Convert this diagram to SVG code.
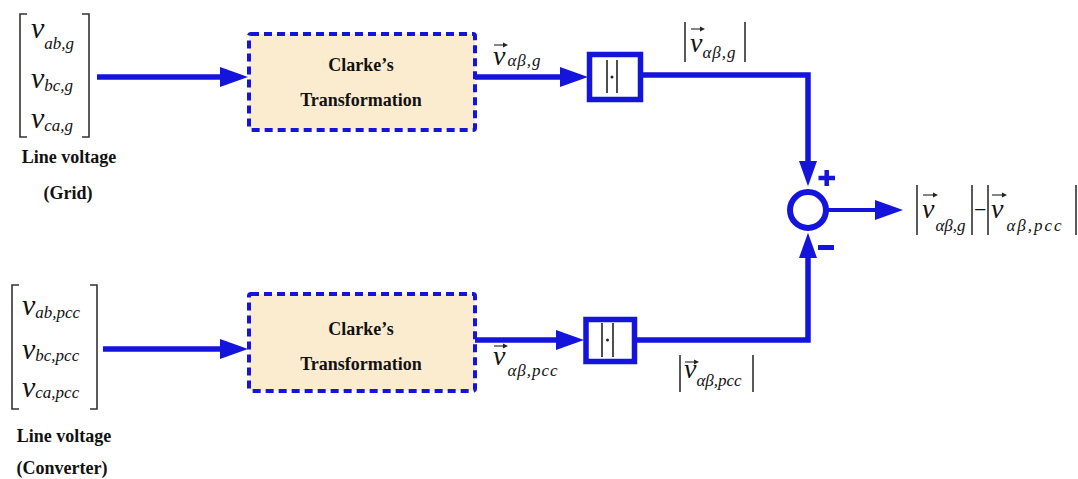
<svg xmlns="http://www.w3.org/2000/svg" width="1078" height="479" viewBox="0 0 1078 479">
<style>
.v{font-family:"Liberation Serif","DejaVu Serif","Times New Roman",serif;font-style:italic;font-size:30px;fill:#111}
.vl{font-family:"Liberation Serif","DejaVu Serif","Times New Roman",serif;font-style:italic;font-size:28px;fill:#111}
.s{font-size:17px}
.b{font-family:"Liberation Serif","DejaVu Serif","Times New Roman",serif;font-weight:bold;font-size:18px;fill:#111;text-anchor:middle}
.br{fill:none;stroke:#333;stroke-width:1.6}
.bar{stroke:#222;stroke-width:1.5}
.va{fill:none;stroke:#222;stroke-width:1.1}
.vah{fill:#222}
.wire{fill:none;stroke:#1414dc;stroke-width:5.5}
.box{fill:#fbeccf;stroke:#1414dc;stroke-width:4;stroke-dasharray:8 5}
.abs{fill:#fff;stroke:#1414dc;stroke-width:5.5}
.inner{stroke:#222;stroke-width:1.6}
</style>
<defs>
<marker id="ah" viewBox="0 0 28 20" markerWidth="28" markerHeight="20" refX="0" refY="10" orient="auto" markerUnits="userSpaceOnUse">
<path d="M0 0 L28 10 L0 20 Z" fill="#1414dc"/>
</marker>
<marker id="ah2" viewBox="0 0 28 20" markerWidth="28" markerHeight="18" refX="0" refY="10" orient="auto" markerUnits="userSpaceOnUse">
<path d="M0 0 L28 10 L0 20 Z" fill="#1414dc"/>
</marker>
</defs>
<rect width="1078" height="479" fill="#fff"/>

<g id="connectors">
<path class="wire" d="M97 77 H220" marker-end="url(#ah)"/>
<path class="wire" d="M475 77 H560" marker-end="url(#ah)"/>
<path class="wire" d="M643 75 H808 V161" marker-end="url(#ah2)"/>
<path class="wire" d="M103 349 H220" marker-end="url(#ah)"/>
<path class="wire" d="M475 340 H556" marker-end="url(#ah)"/>
<path class="wire" d="M637 340 H808 V258" marker-end="url(#ah2)"/>
<path class="wire" style="stroke-width:4" d="M826 210 H875" marker-end="url(#ah)"/>
</g>

<g id="input-grid">
<path class="br" d="M27 14 H20 V137 H27"/>
<path class="br" d="M82 14 H89 V137 H82"/>
<text class="v" x="31" y="38">v<tspan class="s" dy="11">ab,g</tspan></text>
<text class="v" x="31" y="88">v<tspan class="s" dy="3">bc,g</tspan></text>
<text class="v" x="31" y="128">v<tspan class="s" dy="3">ca,g</tspan></text>
<text class="b" x="69" y="163">Line voltage</text>
<text class="b" x="68" y="199">(Grid)</text>
</g>

<g id="input-converter">
<path class="br" d="M19 285 H12 V409 H19"/>
<path class="br" d="M90 285 H97 V409 H90"/>
<text class="v" x="22" y="315">v<tspan class="s" dy="3">ab,pcc</tspan></text>
<text class="v" x="22" y="359">v<tspan class="s" dy="2">bc,pcc</tspan></text>
<text class="v" x="22" y="397">v<tspan class="s" dy="1">ca,pcc</tspan></text>
<text class="b" x="64" y="442">Line voltage</text>
<text class="b" x="62" y="474">(Converter)</text>
</g>

<g id="clarke-grid">
<rect class="box" x="249" y="34" width="226" height="96" rx="2"/>
<text class="b" x="361" y="71">Clarke’s</text>
<text class="b" x="361" y="106">Transformation</text>
</g>

<g id="clarke-converter">
<rect class="box" x="249" y="294" width="226" height="97" rx="2"/>
<text class="b" x="361" y="335">Clarke’s</text>
<text class="b" x="361" y="370">Transformation</text>
</g>

<g id="abs-grid">
<rect class="abs" x="589.5" y="54.5" width="51" height="45"/>
<line class="inner" x1="607" y1="60" x2="607" y2="93"/>
<line class="inner" x1="617" y1="60" x2="617" y2="93"/>
<circle cx="612" cy="77" r="1.5" fill="#222"/>
</g>

<g id="abs-converter">
<rect class="abs" x="586" y="319.5" width="48.5" height="42"/>
<line class="inner" x1="602" y1="323" x2="602" y2="357"/>
<line class="inner" x1="613" y1="323" x2="613" y2="357"/>
<circle cx="607.5" cy="340" r="1.5" fill="#222"/>
</g>

<g id="sum">
<circle cx="808" cy="210" r="18" fill="#fff" stroke="#1414dc" stroke-width="6"/>
<path d="M818.5 178 H835 M826.7 170 V186" stroke="#1414dc" stroke-width="4.5"/>
<path d="M818 247.5 H834" stroke="#1414dc" stroke-width="5"/>
</g>

<g id="labels">
<text class="vl" x="493" y="65">v<tspan class="s" dy="1" dx="2" style="letter-spacing:1px">αβ,g</tspan></text>
<path class="va" d="M494 45 H505"/><path class="vah" d="M508 45 L503 42.5 L503 47.5 Z"/>

<line class="bar" x1="685" y1="22" x2="685" y2="62"/>
<line class="bar" x1="745" y1="22" x2="745" y2="62"/>
<text class="vl" x="690" y="52">v<tspan class="s" dy="6" dx="0" style="letter-spacing:1px">αβ,g</tspan></text>
<path class="va" d="M691 29 H702"/><path class="vah" d="M705 29 L700 26.5 L700 31.5 Z"/>

<text class="vl" x="493" y="365">v<tspan class="s" dy="11" dx="2" style="letter-spacing:1px">αβ,pcc</tspan></text>
<path class="va" d="M494 346 H505"/><path class="vah" d="M508 346 L503 343.5 L503 348.5 Z"/>

<line class="bar" x1="680" y1="355" x2="680" y2="392"/>
<line class="bar" x1="753" y1="355" x2="753" y2="392"/>
<text class="vl" x="684" y="378">v<tspan class="s" dy="8" dx="0">αβ,pcc</tspan></text>
<path class="va" d="M685 362 H696"/><path class="vah" d="M699 362 L694 359.5 L694 364.5 Z"/>

<line class="bar" x1="917" y1="185" x2="917" y2="235"/>
<line class="bar" x1="972" y1="185" x2="972" y2="235"/>
<line class="bar" x1="988" y1="185" x2="988" y2="235"/>
<line class="bar" x1="1076" y1="185" x2="1076" y2="235"/>
<text class="vl" x="922" y="218">v<tspan class="s" dy="13" dx="1">αβ,g</tspan></text>
<path class="va" d="M923 195 H935"/><path class="vah" d="M938 195 L933 192.5 L933 197.5 Z"/>
<text class="vl" x="974" y="217" style="font-style:normal;font-size:22px">−</text>
<text class="vl" x="991" y="218">v<tspan class="s" dy="13" dx="3" style="letter-spacing:2px">αβ,pcc</tspan></text>
<path class="va" d="M992 195 H1004"/><path class="vah" d="M1007 195 L1002 192.5 L1002 197.5 Z"/>
</g>
</svg>
